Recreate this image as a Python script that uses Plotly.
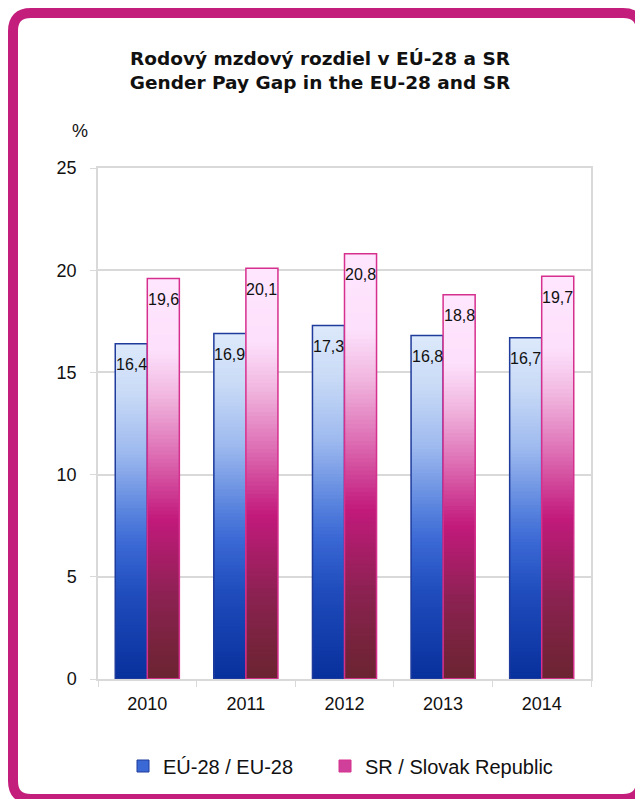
import plotly.graph_objects as go

# ---------------- data ----------------
years = ["2010", "2011", "2012", "2013", "2014"]
eu28 = [16.4, 16.9, 17.3, 16.8, 16.7]
sr = [19.6, 20.1, 20.8, 18.8, 19.7]
series_names = ["EÚ-28 / EU-28", "SR / Slovak Republic"]
title_lines = ["Rodový mzdový rozdiel v EÚ-28 a SR", "Gender Pay Gap in the EU-28 and SR"]
y_ticks = [0, 5, 10, 15, 20, 25]

# ---------------- style ----------------
W, H = 643, 799
OFF = 8  # page offset of the figure (body margin)
ML, MR, MT, MB = 90, 60, 160, 128
PW, PH = W - ML - MR, H - MT - MB
BAR_W = 0.325
N_SEG = 100
FONT = "Liberation Sans, Arial, sans-serif"

eu_stops = [(0, "#08309c"), (0.25, "#1f4cbc"), (0.4, "#3a68d4"), (0.5, "#5a84de"),
            (0.67, "#9cb8ee"), (0.85, "#c8daf6"), (1, "#dde9fb")]
sr_stops = [(0, "#6a2430"), (0.2, "#8a2250"), (0.4, "#c21a7c"), (0.55, "#dc68b0"),
            (0.7, "#f0b4de"), (0.82, "#fde0fb"), (1, "#ffe6ff")]


def hex2rgb(h):
    h = h.lstrip("#")
    return tuple(int(h[i:i + 2], 16) for i in (0, 2, 4))


def interp(stops, f):
    for (f0, c0), (f1, c1) in zip(stops[:-1], stops[1:]):
        if f0 <= f <= f1:
            t = (f - f0) / (f1 - f0) if f1 > f0 else 0
            a, b = hex2rgb(c0), hex2rgb(c1)
            return "rgb(%d,%d,%d)" % tuple(round(a[i] + (b[i] - a[i]) * t) for i in range(3))
    return stops[-1][1]


fig = go.Figure()


def add_series(values, stops, offset, outline, name, legend_color, lw):
    # gradient: overlapping bars, tallest (lightest) first
    for k in range(N_SEG):
        frac = (N_SEG - k) / N_SEG
        col = interp(stops, frac - 0.5 / N_SEG)
        fig.add_trace(go.Bar(
            x=years, y=[v * frac for v in values], offset=offset, width=BAR_W,
            marker=dict(color=col, line=dict(width=0)), showlegend=False,
            hoverinfo="skip"))
    # outline
    fig.add_trace(go.Bar(
        x=years, y=values, offset=offset, width=BAR_W, name=name,
        marker=dict(color="rgba(0,0,0,0)", line=dict(color=outline, width=1.5)),
        showlegend=False))
    # legend swatch only (zero-height bars)
    fig.add_trace(go.Bar(
        x=years, y=[0] * len(years), offset=offset, width=BAR_W, name=name,
        marker=dict(color=legend_color, line=dict(color=outline, width=1)),
        showlegend=True, legendwidth=lw, hoverinfo="skip"))


add_series(eu28, eu_stops, -BAR_W, "#1f3c9c", series_names[0], "#3a68d4", 157)
add_series(sr, sr_stops, 0, "#d6308e", series_names[1], "#d0409a", 200)

# data labels (x given as category index)
for vals, shift in ((eu28, -16), (sr, 16)):
    for i, v in enumerate(vals):
        fig.add_annotation(x=i, y=v, xref="x", yref="y", text=f"{v:.1f}".replace(".", ","),
                           showarrow=False, xshift=shift, yshift=-21,
                           font=dict(family=FONT, size=16, color="#111"))


def px(x):  # page pixel -> paper
    return (x - OFF - ML) / PW


def py(y):
    return (H - MB - (y - OFF)) / PH


def fx(x):  # figure pixel -> paper
    return (x - ML) / PW


def fy(y):
    return (H - MB - y) / PH


# rounded magenta frame (figure pixel coordinates)
x0, x1, y0, y1, r = 5, 633, 5, 791, 18
path = (f"M {fx(x0 + r)},{fy(y0)} L {fx(x1 - r)},{fy(y0)} "
        f"Q {fx(x1)},{fy(y0)} {fx(x1)},{fy(y0 + r)} "
        f"L {fx(x1)},{fy(y1 - r)} Q {fx(x1)},{fy(y1)} {fx(x1 - r)},{fy(y1)} "
        f"L {fx(x0 + r)},{fy(y1)} Q {fx(x0)},{fy(y1)} {fx(x0)},{fy(y1 - r)} "
        f"L {fx(x0)},{fy(y0 + r)} Q {fx(x0)},{fy(y0)} {fx(x0 + r)},{fy(y0)} Z")
fig.add_shape(type="path", path=path, xref="paper", yref="paper",
              line=dict(color="#c41e7c", width=10), fillcolor="rgba(0,0,0,0)", layer="above")

fig.add_annotation(x=px(90), y=py(131), xref="paper", yref="paper", text="%",
                   showarrow=False, xanchor="right", yanchor="middle",
                   font=dict(family=FONT, size=18, color="#111"))

fig.update_layout(
    width=W, height=H,
    margin=dict(l=ML, r=MR, t=MT, b=MB, autoexpand=False),
    paper_bgcolor="white", plot_bgcolor="white",
    barmode="overlay",
    title=dict(text="<br>".join(title_lines), x=312 / W, xanchor="center", xref="container",
               y=1 - 57 / H, yanchor="middle", yref="container",
               font=dict(family="DejaVu Sans, sans-serif", size=18.5, color="#111", weight="bold")),
    font=dict(family=FONT, size=18, color="#111"),
    legend=dict(orientation="h", x=px(123), xanchor="left", y=py(766), yanchor="middle",
                font=dict(family=FONT, size=20, color="#111"),
                traceorder="normal"),
    xaxis=dict(type="category", categoryorder="array", categoryarray=years,
               range=[-0.5, len(years) - 0.5], showgrid=False, showline=True, linecolor="#d9d9d9",
               linewidth=1.5, mirror=True, ticks="outside", tickson="boundaries",
               ticklen=6, tickcolor="#d9d9d9", ticklabelstandoff=8, tickangle=0,
               tickfont=dict(family=FONT, size=18, color="#111")),
    yaxis=dict(range=[0, 25], tickvals=y_ticks, showgrid=True, gridcolor="#d9d9d9",
               gridwidth=1.5, showline=True, linecolor="#d9d9d9", linewidth=1.5, mirror=True,
               ticks="outside", ticklen=6, tickcolor="#d9d9d9", zeroline=False,
               ticklabelstandoff=10, tickfont=dict(family=FONT, size=18, color="#111")),
)

fig.write_html("out.html")
